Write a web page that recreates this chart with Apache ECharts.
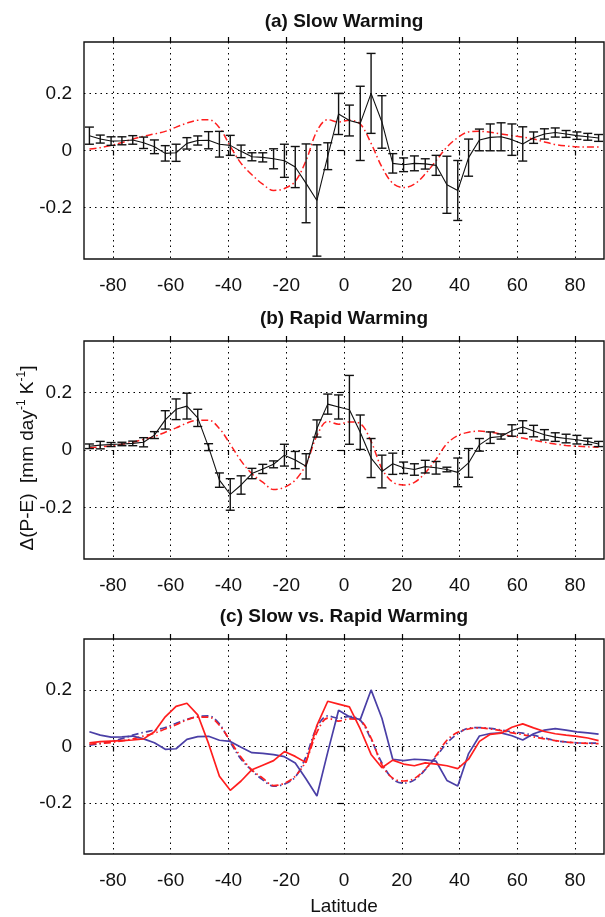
<!DOCTYPE html>
<html><head><meta charset="utf-8">
<script src="https://cdn.jsdelivr.net/npm/echarts@6/dist/echarts.min.js"></script>
<style>html,body{margin:0;padding:0;background:#fff;}#c{width:605px;height:917px;}</style>
</head><body><div id="c"></div>
<script>
const latitudes = [-88.125,-84.375,-80.625,-76.875,-73.125,-69.375,-65.625,-61.875,-58.125,-54.375,-50.625,-46.875,-43.125,-39.375,-35.625,-31.875,-28.125,-24.375,-20.625,-16.875,-13.125,-9.375,-5.625,-1.875,1.875,5.625,9.375,13.125,16.875,20.625,24.375,28.125,31.875,35.625,39.375,43.125,46.875,50.625,54.375,58.125,61.875,65.625,69.375,73.125,76.875,80.625,84.375,88.125];
const xTicks = [-80,-60,-40,-20,0,20,40,60,80];
const yTicks = [-0.2,0,0.2];

// (a) Slow warming: black line with error bars, and red dash-dot line
const slowModel = [0.052,0.040,0.033,0.034,0.037,0.027,0.013,-0.010,-0.008,0.025,0.035,0.036,0.022,0.018,-0.003,-0.022,-0.024,-0.029,-0.036,-0.058,-0.115,-0.175,-0.020,0.128,0.105,0.095,0.200,0.100,-0.045,-0.050,-0.045,-0.047,-0.052,-0.120,-0.140,-0.025,0.037,0.046,0.048,0.038,0.023,0.045,0.058,0.063,0.058,0.052,0.048,0.044];
const slowErr = [0.030,0.014,0.015,0.014,0.015,0.020,0.024,0.027,0.030,0.020,0.016,0.030,0.045,0.035,0.022,0.014,0.016,0.035,0.058,0.072,0.138,0.195,0.047,0.072,0.054,0.130,0.140,0.092,0.034,0.024,0.026,0.018,0.035,0.100,0.105,0.065,0.038,0.047,0.049,0.055,0.060,0.020,0.018,0.016,0.012,0.013,0.012,0.012];
const slowRed = [0.005,0.010,0.018,0.028,0.040,0.050,0.058,0.067,0.082,0.096,0.106,0.108,0.080,0.015,-0.045,-0.085,-0.118,-0.140,-0.133,-0.108,-0.035,0.068,0.108,0.100,0.106,0.093,0.025,-0.058,-0.115,-0.130,-0.118,-0.082,-0.036,0.012,0.045,0.065,0.067,0.064,0.058,0.052,0.047,0.040,0.030,0.021,0.016,0.013,0.012,0.012];

// (b) Rapid warming
const rapidModel = [0.013,0.017,0.019,0.021,0.023,0.027,0.052,0.105,0.142,0.153,0.112,0.010,-0.105,-0.155,-0.122,-0.082,-0.066,-0.050,-0.018,-0.035,-0.057,0.075,0.160,0.150,0.140,0.062,-0.028,-0.075,-0.048,-0.062,-0.068,-0.058,-0.062,-0.068,-0.078,-0.045,0.018,0.043,0.047,0.068,0.080,0.066,0.053,0.045,0.040,0.036,0.030,0.021];
const rapidErr = [0.008,0.013,0.007,0.006,0.008,0.016,0.012,0.032,0.036,0.045,0.030,0.012,0.025,0.055,0.032,0.018,0.016,0.012,0.038,0.030,0.044,0.030,0.035,0.042,0.120,0.060,0.068,0.057,0.037,0.020,0.020,0.022,0.022,0.008,0.050,0.050,0.022,0.020,0.009,0.020,0.022,0.020,0.018,0.015,0.015,0.015,0.011,0.009];
const rapidRed = [0.008,0.011,0.014,0.020,0.027,0.037,0.047,0.062,0.077,0.094,0.104,0.104,0.075,0.020,-0.038,-0.083,-0.112,-0.138,-0.130,-0.105,-0.050,0.050,0.100,0.090,0.098,0.092,0.030,-0.065,-0.112,-0.122,-0.113,-0.080,-0.032,0.022,0.050,0.062,0.066,0.062,0.056,0.048,0.042,0.034,0.027,0.021,0.016,0.013,0.011,0.010];

const titles = ['(a) Slow Warming','(b) Rapid Warming','(c) Slow vs. Rapid Warming'];
const xLabel = 'Latitude';

const FONT = '"Liberation Sans", Arial, Helvetica, sans-serif';
const TXT = '#111';
const grids = [
  {left:84, width:520, top:42, height:217},
  {left:84, width:520, top:341, height:218},
  {left:84, width:520, top:639, height:219}
];
const titleY = [22, 319, 617];
const DOTS = [1.5, 4];

function pairs(v){ return latitudes.map((x,i)=>[x, v[i]]); }
function bars(v, e){ return latitudes.map((x,i)=>[x, v[i]-e[i], v[i]+e[i]]); }

const xAxes = [], yAxes = [];
grids.forEach((g, i) => {
  xAxes.push({
    type:'value', gridIndex:i, min:-90, max:90, position:'bottom',
    name: i === 2 ? xLabel : '', nameLocation:'middle', nameGap:43,
    nameTextStyle:{color:TXT, fontSize:19, fontFamily:FONT},
    axisLine:{show:false},
    axisTick:{show:true, inside:false, length:5, customValues:xTicks, lineStyle:{color:'#000', width:1.2}},
    axisLabel:{customValues:xTicks, color:TXT, fontSize:19, fontFamily:FONT, margin:17},
    splitLine:{show:true, lineStyle:{color:'#000', width:1, type:DOTS}}
  });
  xAxes.push({
    type:'value', gridIndex:i, min:-90, max:90, position:'top',
    axisLine:{show:false},
    axisTick:{show:true, inside:false, length:5, customValues:xTicks, lineStyle:{color:'#000', width:1.2}},
    axisLabel:{show:false, customValues:xTicks},
    splitLine:{show:false}
  });
  yAxes.push({
    type:'value', gridIndex:i, min:-0.38, max:0.38,
    axisLine:{show:false},
    axisTick:{show:true, inside:false, length:6, customValues:yTicks, lineStyle:{color:'#000', width:1.2}},
    axisLabel:{customValues:yTicks, color:TXT, fontSize:19, fontFamily:FONT, margin:12,
      formatter: v => String(Math.round(v*10)/10)},
    splitLine:{show:true, lineStyle:{color:'#000', width:1, type:DOTS}}
  });
});

function errorBarSeries(gi, v, e){
  return {
    type:'custom', xAxisIndex:gi*2, yAxisIndex:gi, clip:true, z:3,
    data: bars(v, e),
    encode:{x:0, y:[1,2]},
    renderItem: function(params, api){
      const x = api.value(0), lo = api.value(1), hi = api.value(2);
      const p1 = api.coord([x, lo]), p2 = api.coord([x, hi]);
      const w = 4.5;
      const st = {stroke:'#111', lineWidth:1.4};
      return {type:'group', children:[
        {type:'line', shape:{x1:p1[0], y1:p1[1], x2:p2[0], y2:p2[1]}, style:st},
        {type:'line', shape:{x1:p1[0]-w, y1:p1[1], x2:p1[0]+w, y2:p1[1]}, style:st},
        {type:'line', shape:{x1:p2[0]-w, y1:p2[1], x2:p2[0]+w, y2:p2[1]}, style:st}
      ]};
    }
  };
}
function lineSeries(gi, v, color, width, type, smooth, z){
  return {
    type:'line', xAxisIndex:gi*2, yAxisIndex:gi, data:pairs(v), showSymbol:false, symbol:'none',
    smooth: smooth, z: z || 2, silent:true,
    lineStyle:{color:color, width:width, type:type}
  };
}
const DASHDOT = [7,3,1.5,3];
const RED = '#ff1e1e', BLUE = '#4a3fa6';

const series = [
  lineSeries(0, slowRed, RED, 1.5, DASHDOT, 0.35, 2),
  lineSeries(0, slowModel, '#111', 1.1, 'solid', false, 4),
  errorBarSeries(0, slowModel, slowErr),
  lineSeries(1, rapidRed, RED, 1.5, DASHDOT, 0.35, 2),
  lineSeries(1, rapidModel, '#111', 1.1, 'solid', false, 4),
  errorBarSeries(1, rapidModel, rapidErr),
  lineSeries(2, slowRed, BLUE, 1.7, DASHDOT, 0.35, 2),
  lineSeries(2, rapidRed, RED, 1.7, DASHDOT, 0.35, 2),
  lineSeries(2, slowModel, BLUE, 1.7, 'solid', false, 3),
  lineSeries(2, rapidModel, RED, 1.7, 'solid', false, 3)
];

const graphic = titles.map((t, i) => ({
  type:'text', x:344, y:titleY[i], silent:true,
  style:{text:t, fill:'#111', font:'bold 19px ' + FONT, align:'center', verticalAlign:'middle'}
}));
graphic.push({
  type:'text', x:28, y:458, rotation:Math.PI/2, silent:true,
  style:{
    text:'{n|\u0394(P-E)  [mm day}{s|-1}{n| K}{s|-1}{n|]}',
    align:'center', verticalAlign:'middle',
    rich:{
      n:{fontSize:19, fontFamily:FONT, fill:TXT, color:TXT, lineHeight:24},
      s:{fontSize:12, fontFamily:FONT, fill:TXT, color:TXT, verticalAlign:'top', lineHeight:14}
    }
  }
});

const chart = echarts.init(document.getElementById('c'), null, {renderer:'canvas'});
chart.setOption({
  animation:false,
  backgroundColor:'#fff',
  grid: grids.map(g => Object.assign({show:true, borderColor:'#111', borderWidth:1.4, backgroundColor:'transparent'}, g)),
  xAxis: xAxes,
  yAxis: yAxes,
  series: series,
  graphic: graphic
});
</script></body></html>
